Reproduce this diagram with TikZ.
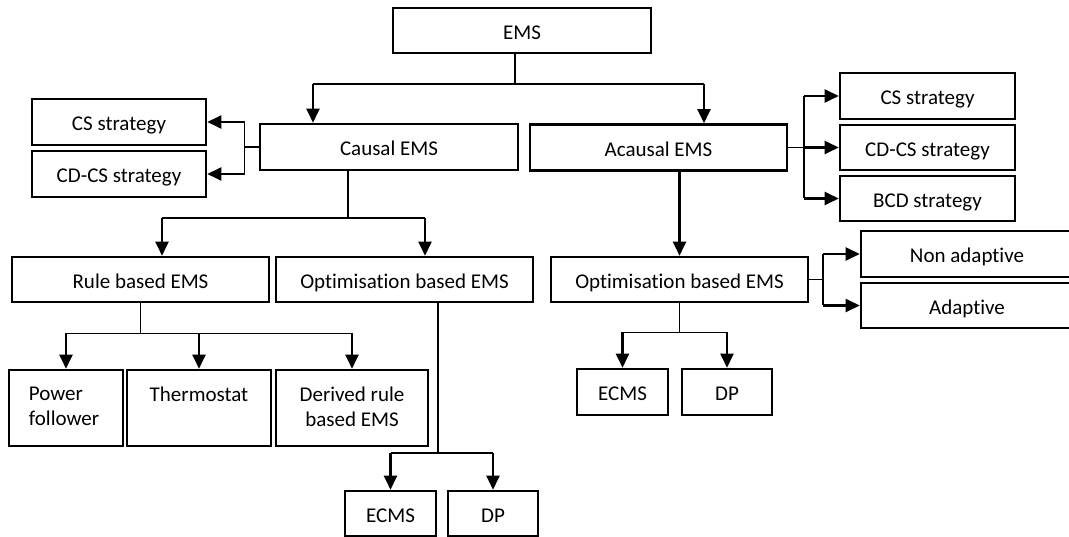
\documentclass[tikz,border=0pt]{standalone}
\usepackage{fontspec}
\setmainfont{Carlito}[Ligatures=NoCommon]
\usetikzlibrary{arrows.meta,positioning}
\tikzset{
  box/.style={draw=black,line width=2.6pt,inner sep=0pt,font=\fontsize{21}{25}\selectfont,
              text height=18pt,text depth=0pt},
  boxtxt/.style={font=\fontsize{21}{25}\selectfont,inner sep=0pt},
  link/.style={black,line width=1.2pt},
  branch/.style={black,line width=2.4pt,-{Triangle[length=14pt,width=13pt]}}
}

\begin{document}
\begin{tikzpicture}[x=1pt,y=-1pt]
  \useasboundingbox (0,0) rectangle (1069,537);

  % Root and the two main EMS classes.
  \node[box,minimum width=258pt,minimum height=45pt] (ems) at (522,30.5) {EMS};
  \node[box,minimum width=258pt,minimum height=46pt] (causal) at (389,147) {Causal EMS};
  \node[box,minimum width=257pt,minimum height=46pt] (acausal) at (658.5,147.5) {Acausal EMS};

  % Charge strategies.
  \node[box,minimum width=174pt,minimum height=46pt] (lcs) at (119,122) {CS strategy};
  \node[box,minimum width=174pt,minimum height=46pt] (lcdcs) at (119,174) {CD-CS strategy};
  \node[box,minimum width=175pt,minimum height=46pt] (rcs) at (927.5,96) {CS strategy};
  \node[box,minimum width=175pt,minimum height=45pt] (rcdcs) at (927.5,147.5) {CD-CS strategy};
  \node[box,minimum width=175pt,minimum height=45pt] (rbcd) at (927.5,198.5) {BCD strategy};

  % Causal branch.
  \node[box,minimum width=257pt,minimum height=45pt] (rule) at (140.5,279.5) {Rule based EMS};
  \node[box,minimum width=257pt,minimum height=45pt] (lopt) at (404.5,279.5) {Optimisation based EMS};
  \node[box,minimum width=114pt,minimum height=76pt,
        label={[boxtxt,align=left,below right=18pt and 21pt]north west:Power\\follower}] (power) at (66,408) {};
  \node[box,minimum width=144pt,minimum height=76pt,
        label={[boxtxt,align=center,below=18pt]north:Thermostat}] (thermo) at (199,408) {};
  \node[box,minimum width=152pt,minimum height=76pt,
        label={[boxtxt,align=center,below=18pt]north:Derived rule\\based EMS}] (derived) at (352,408) {};
  \node[box,minimum width=91pt,minimum height=45pt] (lecms) at (390.5,513.5) {ECMS};
  \node[box,minimum width=90pt,minimum height=45pt] (ldp) at (493,513.5) {DP};

  % Acausal branch.
  \node[box,minimum width=257pt,minimum height=45pt] (ropt) at (679.5,279.5) {Optimisation based EMS};
  \node[box,minimum width=212pt,minimum height=46pt] (nonad) at (967,254) {Non adaptive};
  \node[box,minimum width=212pt,minimum height=45pt] (adapt) at (967,305.5) {Adaptive};
  \node[box,minimum width=91pt,minimum height=46pt] (recms) at (622.5,392) {ECMS};
  \node[box,minimum width=90pt,minimum height=46pt] (rdp) at (727,392) {DP};

  % Junctions of the connector buses.
  \coordinate (jtop) at (515,84);
  \coordinate (jtopL) at (313,84);
  \coordinate (jtopR) at (704,84);
  \coordinate (jcl) at (244.5,147);
  \coordinate (jar) at (804,147.5);
  \coordinate (jor) at (823,279.5);
  \coordinate (jcd) at (348,218);
  \coordinate (jcdL) at (162,218);
  \coordinate (jcdR) at (425,218);
  \coordinate (jld) at (438,453);

  % EMS to causal / acausal.
  \draw[link] (jtop |- ems.south) -- (jtop);
  \draw[link] (jtopL) -- (jtopR);
  \draw[branch] (jtopL) -- (jtopL |- causal.north);
  \draw[branch] (jtopR) -- (jtopR |- acausal.north);

  % Causal EMS to its strategies.
  \draw[link] (causal.west) -- (jcl);
  \draw[link] (jcl |- lcs.east) -- (jcl |- lcdcs.east);
  \draw[branch] (jcl |- lcs.east) -- (lcs.east);
  \draw[branch] (jcl |- lcdcs.east) -- (lcdcs.east);

  % Acausal EMS to its strategies.
  \draw[link] (acausal.east) -- (jar);
  \draw[link] (jar |- rcs.west) -- (jar |- rbcd.west);
  \foreach \b in {rcs,rcdcs,rbcd} {\draw[branch] (jar |- \b.west) -- (\b.west);}
  \draw[branch] (acausal.south -| ropt.north) -- (ropt.north);

  % Acausal optimisation.
  \draw[link] (ropt.east) -- (jor);
  \draw[link] (jor |- nonad.west) -- (jor |- adapt.west);
  \foreach \b in {nonad,adapt} {\draw[branch] (jor |- \b.west) -- (\b.west);}
  \draw[link] (ropt.south) -- ++(0,29) coordinate (jod);
  \draw[link] (jod -| recms.north) -- (jod -| rdp.north);
  \foreach \b in {recms,rdp} {\draw[branch] (jod -| \b.north) -- (\b.north);}

  % Causal EMS to rule / optimisation based.
  \draw[link] (jcd |- causal.south) -- (jcd);
  \draw[link] (jcdL) -- (jcdR);
  \draw[branch] (jcdL) -- (jcdL |- rule.north);
  \draw[branch] (jcdR) -- (jcdR |- lopt.north);

  % Rule based EMS.
  \draw[link] (rule.south) -- ++(0,30) coordinate (jrd);
  \draw[link] (jrd -| power.north) -- (jrd -| derived.north);
  \foreach \b in {power,thermo,derived} {\draw[branch] (jrd -| \b.north) -- (\b.north);}

  % Causal optimisation.
  \draw[link] (jld |- lopt.south) -- (jld);
  \draw[link] (jld -| lecms.north) -- (jld -| ldp.north);
  \foreach \b in {lecms,ldp} {\draw[branch] (jld -| \b.north) -- (\b.north);}
\end{tikzpicture}
\end{document}
